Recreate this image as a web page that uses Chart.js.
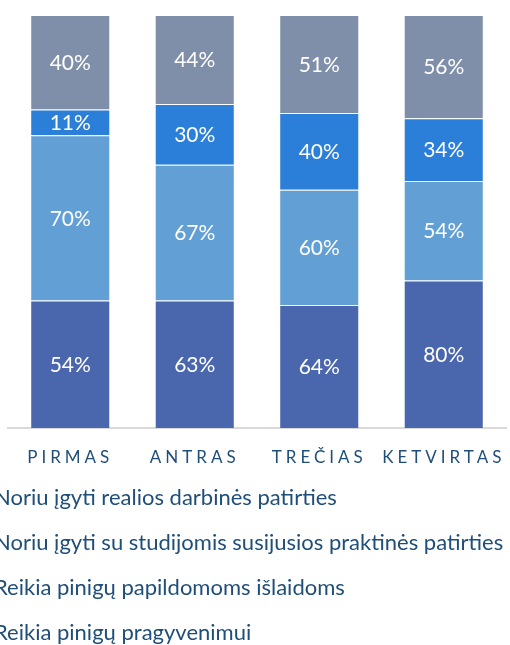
<!DOCTYPE html>
<html>
<head>
<meta charset="utf-8">
<script src="https://cdn.jsdelivr.net/npm/chart.js@4/dist/chart.umd.min.js"></script>
<style>
  html, body { margin: 0; padding: 0; background: #ffffff; overflow: hidden; width: 510px; height: 645px; }
  #wrap { position: absolute; left: -60px; top: 0; width: 570px; height: 654px; }
</style>
</head>
<body>
<div id="wrap"><canvas id="c" width="570" height="654"></canvas></div>
<script>
const categories = ['PIRMAS', 'ANTRAS', 'TREČIAS', 'KETVIRTAS'];
const seriesNames = [
  'Noriu įgyti realios darbinės patirties',
  'Noriu įgyti su studijomis susijusios praktinės patirties',
  'Reikia pinigų papildomoms išlaidoms',
  'Reikia pinigų pragyvenimui'
];
const realiosPatirties = [54, 63, 64, 80];
const praktinesPatirties = [70, 67, 60, 54];
const papildomosIslaidos = [11, 30, 40, 34];
const pragyvenimas = [40, 44, 51, 56];
const seriesColors = ['#4A66AC', '#629FD4', '#2B7FD8', '#7F8FA9'];

const rawSeries = [realiosPatirties, praktinesPatirties, papildomosIslaidos, pragyvenimas];
const totals = categories.map((_, i) => rawSeries.reduce((s, arr) => s + arr[i], 0));

const datasets = rawSeries.map((arr, k) => ({
  label: seriesNames[k],
  data: arr.map((v, i) => v / totals[i] * 100),
  raw: arr,
  backgroundColor: seriesColors[k],
  borderColor: 'rgba(255,255,255,0.18)',
  borderWidth: 1,
  barPercentage: 0.643,
  categoryPercentage: 1.0
}));

const labelPlugin = {
  id: 'segLabels',
  afterDatasetsDraw(chart) {
    const ctx = chart.ctx;
    ctx.save();
    ctx.fillStyle = '#ffffff';
    ctx.font = '21px Lato';
    ctx.textAlign = 'center';
    ctx.textBaseline = 'middle';
    chart.data.datasets.forEach((ds, di) => {
      const meta = chart.getDatasetMeta(di);
      meta.data.forEach((el, i) => {
        const y = (el.y + el.base) / 2;
        ctx.fillText(ds.raw[i] + '%', el.x, y + 1);
      });
    });
    ctx.restore();
  }
};

new Chart(document.getElementById('c'), {
  type: 'bar',
  data: { labels: categories, datasets: datasets },
  options: {
    responsive: false,
    animation: false,
    devicePixelRatio: 1,
    layout: { padding: { top: 15, right: 4, left: 0, bottom: 0 } },
    scales: {
      x: {
        stacked: true,
        grid: { display: false, drawTicks: false },
        border: { display: true, color: '#D9D9D9', width: 2 },
        ticks: { color: '#1F4E79', font: { family: 'Lato', size: 17 }, padding: 19, maxRotation: 0, autoSkip: false },
        afterFit(scale) {
          scale.height = 36;
          if (!scale._lsPatched) {
            const orig = scale.drawLabels;
            scale.drawLabels = function (ca) {
              const c = this.ctx;
              c.save();
              c.letterSpacing = '4px';
              orig.call(this, ca);
              c.restore();
            };
            scale._lsPatched = true;
          }
        }
      },
      y: {
        stacked: true,
        min: 0,
        max: 100,
        grid: { display: false },
        border: { display: false },
        ticks: { display: false },
        afterFit(scale) { scale.width = 68; }
      }
    },
    plugins: {
      legend: {
        position: 'bottom',
        align: 'start',
        labels: {
          color: '#1F4E79',
          font: { family: 'Lato', size: 22 },
          boxWidth: 20,
          boxHeight: 10,
          padding: 23
        }
      },
      tooltip: { enabled: false }
    }
  },
  plugins: [labelPlugin]
});
</script>
</body>
</html>
